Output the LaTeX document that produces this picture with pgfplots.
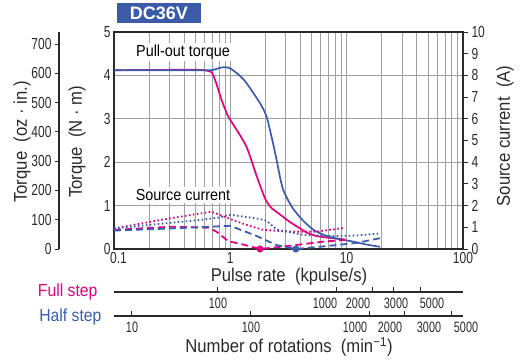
\documentclass[border=0pt]{standalone}
\usepackage{fontspec}
\setmainfont{Liberation Sans}[FakeStretch=0.9]
\newfontfamily\tickfamily{Liberation Sans}[FakeStretch=0.75]
\newfontfamily\rpmfamily{Liberation Sans}[FakeStretch=0.72]
\newfontfamily\titlefamily{Liberation Sans}
\usepackage{pgfplots}
\pgfplotsset{compat=1.18}
\definecolor{mag}{HTML}{E4007F}
\definecolor{blu}{HTML}{3A5DAE}
\definecolor{gridc}{HTML}{A0A0A0}
\definecolor{axc}{HTML}{2A2A2A}
\definecolor{titlebg}{HTML}{3B5BA9}
\newcommand\tickfont{\tickfamily\fontsize{16}{18}\selectfont}
\newcommand\rpmfont{\rpmfamily\fontsize{15}{17}\selectfont}
\newcommand\labfont{\fontsize{18.5}{20}\selectfont}
\newcommand\inlabfont{\fontsize{16}{18}\selectfont}

\pgfplotsset{
  ref/.style={width=349pt, height=217pt, scale only axis, anchor=south west,
    tick label style={font=\tickfont, text=axc},
    /pgf/number format/assume math mode=true,
    axis line style={axc, line width=1.2pt}},
  solidc/.style={line width=1.7pt, smooth, tension=0.4},
  dotc/.style={line width=1.8pt, dash pattern=on 1.6pt off 2.4pt},
  dashc/.style={line width=1.8pt, dash pattern=on 7pt off 4pt},
  rpm/.style={ref, height=5pt, ymin=0, ymax=1,
    axis y line=none, axis x line*=bottom,
    axis line style={-, axc, line width=1.2pt},
    xticklabels=\empty, xminorticks=false, tick align=inside,
    major tick length=5pt, xtick style={axc, line width=1pt}},
}

\begin{document}
\begin{tikzpicture}[x=1pt, y=1pt, font=\labfont]
\path[use as bounding box] (0,0) rectangle (524,360);

% torque (N m) with grid
\begin{axis}[ref, at={(114pt,111pt)},
  xmode=log, xmin=0.1, xmax=100, ymin=0, ymax=5,
  xtick={0.1,1,10,100},
  xticklabels={\hspace{9pt}0.1,1,10,100\hspace{12pt}},
  minor xtick={0.2,0.3,0.4,0.5,0.6,0.7,0.8,0.9,2,3,4,5,6,7,8,9,20,30,40,50,60,70,80,90},
  ytick={0,1,2,3,4,5},
  xmajorgrids, xminorgrids, ymajorgrids,
  grid style={gridc, line width=0.9pt},
  minor grid style={gridc, line width=0.9pt},
  major tick length=0pt, minor tick length=0pt]
  % pull-out torque, full step
  \addplot[mag, solidc] coordinates {
    (0.1,4.12) (0.5,4.13) (0.65,4.10) (0.7,4.05) (0.75,3.85) (0.85,3.40)
    (0.96,3.05) (1.1,2.80) (1.38,2.35) (1.7,1.65) (2.0,1.15) (2.25,0.95)
    (2.6,0.82) (3.26,0.62) (4.0,0.47) (4.6,0.37) (5.5,0.30) (7,0.26) (9.7,0.22)};
  % pull-out torque, half step
  \addplot[blu, solidc] coordinates {
    (0.1,4.12) (0.6,4.12) (0.72,4.13) (0.8,4.17) (0.9,4.19) (1.0,4.16)
    (1.2,4.00) (1.38,3.82) (1.8,3.36) (2.05,3.05) (2.3,2.50) (2.5,2.05)
    (2.7,1.60) (2.85,1.36) (3.1,1.15) (3.48,0.92) (4.2,0.66) (5.19,0.44)
    (6.3,0.33) (7.66,0.26) (9.4,0.21) (11.4,0.17) (15,0.10) (19.4,0.05)};
\end{axis}

\node[font=\inlabfont, fill=white, inner sep=2pt] at (183,308) {Pull-out torque};
\node[font=\inlabfont, fill=white, inner sep=2pt] at (183,165) {Source current};

% source current (A)
\begin{axis}[ref, at={(114pt,111pt)},
  xmode=log, xmin=0.1, xmax=100, ymin=0, ymax=10,
  axis x line=none, axis y line*=right,
  axis line style={-, axc, line width=1.2pt},
  ytick={0,1,...,10}, tick align=outside,
  major tick length=5pt, ytick style={axc, line width=1pt},
  clip=false]
  \addplot[mag, dotc] coordinates {
    (0.1,0.95) (0.3,1.41) (0.5,1.60) (0.69,1.72) (1.0,1.38) (1.4,1.10)
    (1.92,0.88) (3.26,0.80) (5.5,0.80) (9.7,0.98)};
  \addplot[blu, dotc] coordinates {
    (0.1,0.95) (0.55,1.34) (0.8,1.45) (1.0,1.58) (1.8,1.38) (2.05,1.30)
    (2.5,0.90) (4.2,0.65) (7.2,0.60) (12.2,0.62) (19.4,0.72)};
  \addplot[mag, dashc] coordinates {
    (0.1,0.88) (0.32,1.03) (0.65,0.98) (0.76,0.80) (0.96,0.36) (1.3,0.20)
    (1.8,0) (3.26,0.15) (6.3,0.34) (9.7,0.42)};
  \addplot[blu, dashc] coordinates {
    (0.1,0.85) (0.32,0.95) (0.7,1.03) (1.0,1.07) (1.68,0.60) (2.5,0.18)
    (3.66,0) (6.3,0.12) (12.2,0.28) (19.4,0.50)};
  \addplot[only marks, mark=*, mag, mark size=3.3pt] coordinates {(1.8,0)};
  \addplot[only marks, mark=*, blu, mark size=3.3pt] coordinates {(3.66,0)};
\end{axis}

% torque (oz in)
\begin{axis}[ref, at={(59pt,111pt)}, width=10pt,
  xmin=0, xmax=1, ymin=0, ymax=741,
  axis x line=none, axis y line*=left,
  axis line style={-, axc, line width=1.2pt},
  ytick={0,100,...,700}, tick align=outside,
  major tick length=4pt, ytick style={axc, line width=1pt}]
\end{axis}

% rotations, full step (0.72 deg/step)
\begin{axis}[rpm, at={(114pt,68pt)}, xmode=log, xmin=13.7, xmax=11450,
  xtick={100,1000,2000,3000,5000}]
\end{axis}
% rotations, half step
\begin{axis}[rpm, at={(114pt,44pt)}, xmode=log, xmin=7.05, xmax=6210,
  xtick={10,100,1000,2000,5000}]
\end{axis}

\begin{scope}[font=\rpmfont, text=axc, inner sep=0pt]
  \node at (218,56.5) {100};
  \node at (325,56.5) {1000};
  \node at (358,56.5) {2000};
  \node at (396,56.5) {3000};
  \node at (432,56.5) {5000};
  \node at (132,32.5) {10};
  \node at (251,32.5) {100};
  \node at (355,32.5) {1000};
  \node at (390,32.5) {2000};
  \node at (429,32.5) {3000};
  \node at (466,32.5) {5000};
\end{scope}

\node[fill=titlebg, text=white, minimum width=84pt, minimum height=20pt,
  inner sep=0pt, font=\titlefamily\fontsize{18}{20}\selectfont\bfseries] at (159,347) {DC36V};

\node[text=axc, inner sep=0pt] at (289,83) {Pulse rate\hskip0.5em(kpulse/s)};
\node[text=axc, inner sep=0pt] at (289,13) {Number of rotations\hskip0.5em(min\textsuperscript{−1})};
\node[text=mag, anchor=east, font=\fontsize{17.5}{19}\selectfont] at (101,68) {Full step};
\node[text=blu, anchor=east, font=\fontsize{17.5}{19}\selectfont] at (105,43) {Half step};
\node[text=axc, rotate=90] at (22,218) {Torque\hskip0.5em(oz\hskip0.25em·\hskip0.25em in.)};
\node[text=axc, rotate=90] at (77,218) {Torque\hskip0.5em(N\hskip0.25em·\hskip0.25em m)};
\node[text=axc, rotate=90] at (505,224) {Source current\hskip0.5em(A)};
\end{tikzpicture}
\end{document}
